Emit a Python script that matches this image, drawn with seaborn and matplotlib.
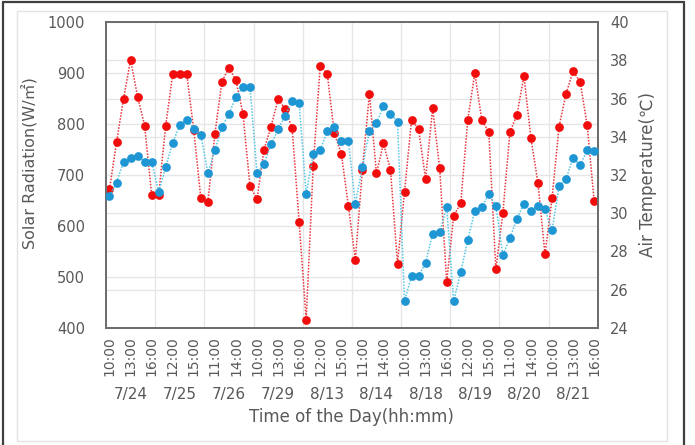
import numpy as np
import pandas as pd
import seaborn as sns
import matplotlib
matplotlib.use("Agg")
from matplotlib import pyplot as plt
from matplotlib import transforms
from matplotlib.patches import Rectangle
from matplotlib.lines import Line2D

sns.set_style("white")
plt.rcParams['font.family'] = ['DejaVu Sans', 'Noto Sans CJK JP']

# days and the hours measured on each of them
dates = ['7/24', '7/25', '7/26', '7/29', '8/13', '8/14', '8/18', '8/19', '8/20', '8/21']
hours = ['10:00', '11:00', '12:00', '13:00', '14:00', '15:00', '16:00']

# solar radiation (W/m2), left axis
solar = [672, 764, 850, 926, 854, 797, 661,
         661, 797, 898, 898, 898, 788, 654,
         646, 780, 883, 911, 886, 820, 678,
         653, 750, 795, 849, 830, 792, 607,
         415, 718, 915, 899, 782, 742, 640,
         533, 710, 860, 703, 762, 710, 526,
         667, 808, 790, 692, 831, 714, 490,
         620, 644, 808, 900, 808, 784, 515,
         625, 784, 818, 894, 772, 684, 544,
         654, 795, 860, 904, 883, 798, 648]

# air temperature (C), right axis
temp = [30.9, 31.6, 32.7, 32.9, 33.0, 32.7, 32.7,
        31.1, 32.4, 33.7, 34.6, 34.9, 34.4, 34.1,
        32.1, 33.3, 34.5, 35.2, 36.1, 36.6, 36.6,
        32.1, 32.6, 33.6, 34.4, 35.1, 35.9, 35.75,
        31.0, 33.1, 33.3, 34.3, 34.5, 33.8, 33.8,
        30.5, 32.4, 34.3, 34.7, 35.6, 35.2, 34.8,
        25.4, 26.7, 26.7, 27.4, 28.9, 29.0, 30.3,
        25.4, 26.9, 28.6, 30.1, 30.3, 31.0, 30.4,
        27.8, 28.7, 29.7, 30.5, 30.1, 30.4, 30.2,
        29.1, 31.4, 31.8, 32.9, 32.5, 33.3, 33.25]

df = pd.DataFrame({
    'date': np.repeat(dates, len(hours)),
    'hour': hours * len(dates),
    'solar': solar,
    'temp': temp,
})
df['idx'] = np.arange(len(df))

txt = '#595959'
grid_c = '#E6E6E6'

fig = plt.figure(figsize=(6.95, 4.45), dpi=100)
ax = fig.add_axes([0.1525, 0.2636, 0.7075, 0.6864])
ax2 = ax.twinx()

sns.lineplot(data=df, x='idx', y='solar', ax=ax, color='#E8343C', linestyle=(0, (1, 1)),
             linewidth=1.1, marker='o', markersize=6.3, markerfacecolor='#F20D0D',
             markeredgecolor='#F20D0D', markeredgewidth=0, zorder=3)
sns.lineplot(data=df, x='idx', y='temp', ax=ax2, color='#55C6E6', linestyle=(0, (1, 1)),
             linewidth=1.1, marker='o', markersize=6.3, markerfacecolor='#1E96D4',
             markeredgecolor='#1E96D4', markeredgewidth=0, zorder=3)

n = len(df)
ax.set_xlim(-0.5, n - 0.5)
ax.set_ylim(400, 1000)
ax2.set_ylim(24, 40)
ax.set_yticks(np.arange(400, 1001, 100))
ax2.set_yticks(np.arange(24, 41, 2))

# grid: left axis majors, right-axis levels as minor lines on the left axis, day separators
ax.set_yticks([400 + (t - 24) * 37.5 for t in range(24, 41, 2)], minor=True)
ax.set_xticks([7 * d - 0.5 for d in range(1, len(dates))], minor=True)
ax.grid(True, axis='y', which='major', color=grid_c, linewidth=1)
ax.grid(True, axis='y', which='minor', color=grid_c, linewidth=1)
ax.grid(True, axis='x', which='minor', color=grid_c, linewidth=1)
ax.grid(False, axis='x', which='major')
ax.set_axisbelow(True)
ax2.grid(False)

xt = list(range(0, n, 3))
ax.set_xticks(xt)
ax.set_xticklabels([df['hour'][i] for i in xt], rotation=90, fontsize=10, color=txt)
ax.tick_params(axis='x', which='both', length=0, pad=6)
ax.tick_params(axis='y', which='both', length=0, pad=15, labelsize=10.5, labelcolor=txt)
ax2.tick_params(axis='y', length=0, pad=9, labelsize=10.5, labelcolor=txt)

# day labels under the hour labels
trans = transforms.blended_transform_factory(ax.transData, ax.transAxes)
for d, lab in enumerate(dates):
    ax.text(7 * d + 3, -0.22, lab, transform=trans, ha='center', va='center',
            fontsize=11, color=txt)

ax.set_xlabel('Time of the Day(hh:mm)', fontsize=12, color=txt)
ax.xaxis.set_label_coords(0.5, -0.262)
ax.set_ylabel('Solar Radiation(W/㎡)', fontsize=11.5, color=txt)
ax.yaxis.set_label_coords(-0.138, 0.54)
ax2.set_ylabel('Air Temperature(℃)', fontsize=12, color=txt)
ax2.yaxis.set_label_coords(1.083, 0.5)

for a in (ax, ax2):
    for s in a.spines.values():
        s.set_visible(True)
        s.set_color('#6E6E6E')
        s.set_linewidth(1.4)

# chart-area frame
W, H = 695, 445
fig.add_artist(Rectangle((17 / W, 1 - 441 / H), (667 - 17) / W, (441 - 11) / H,
                         transform=fig.transFigure, fill=False, edgecolor='#E3E3E3', linewidth=1))
frame_c = '#3F3F3F'
fig.add_artist(Line2D([3 / W, 3 / W], [0, 1 - 2 / H], transform=fig.transFigure, color=frame_c, linewidth=1.6))
fig.add_artist(Line2D([3 / W, 684 / W], [1 - 2 / H, 1 - 2 / H], transform=fig.transFigure, color=frame_c, linewidth=1.6))
fig.add_artist(Line2D([684 / W, 684 / W], [0, 1 - 2 / H], transform=fig.transFigure, color=frame_c, linewidth=1.6))

fig.savefig('out.png', dpi=100)
